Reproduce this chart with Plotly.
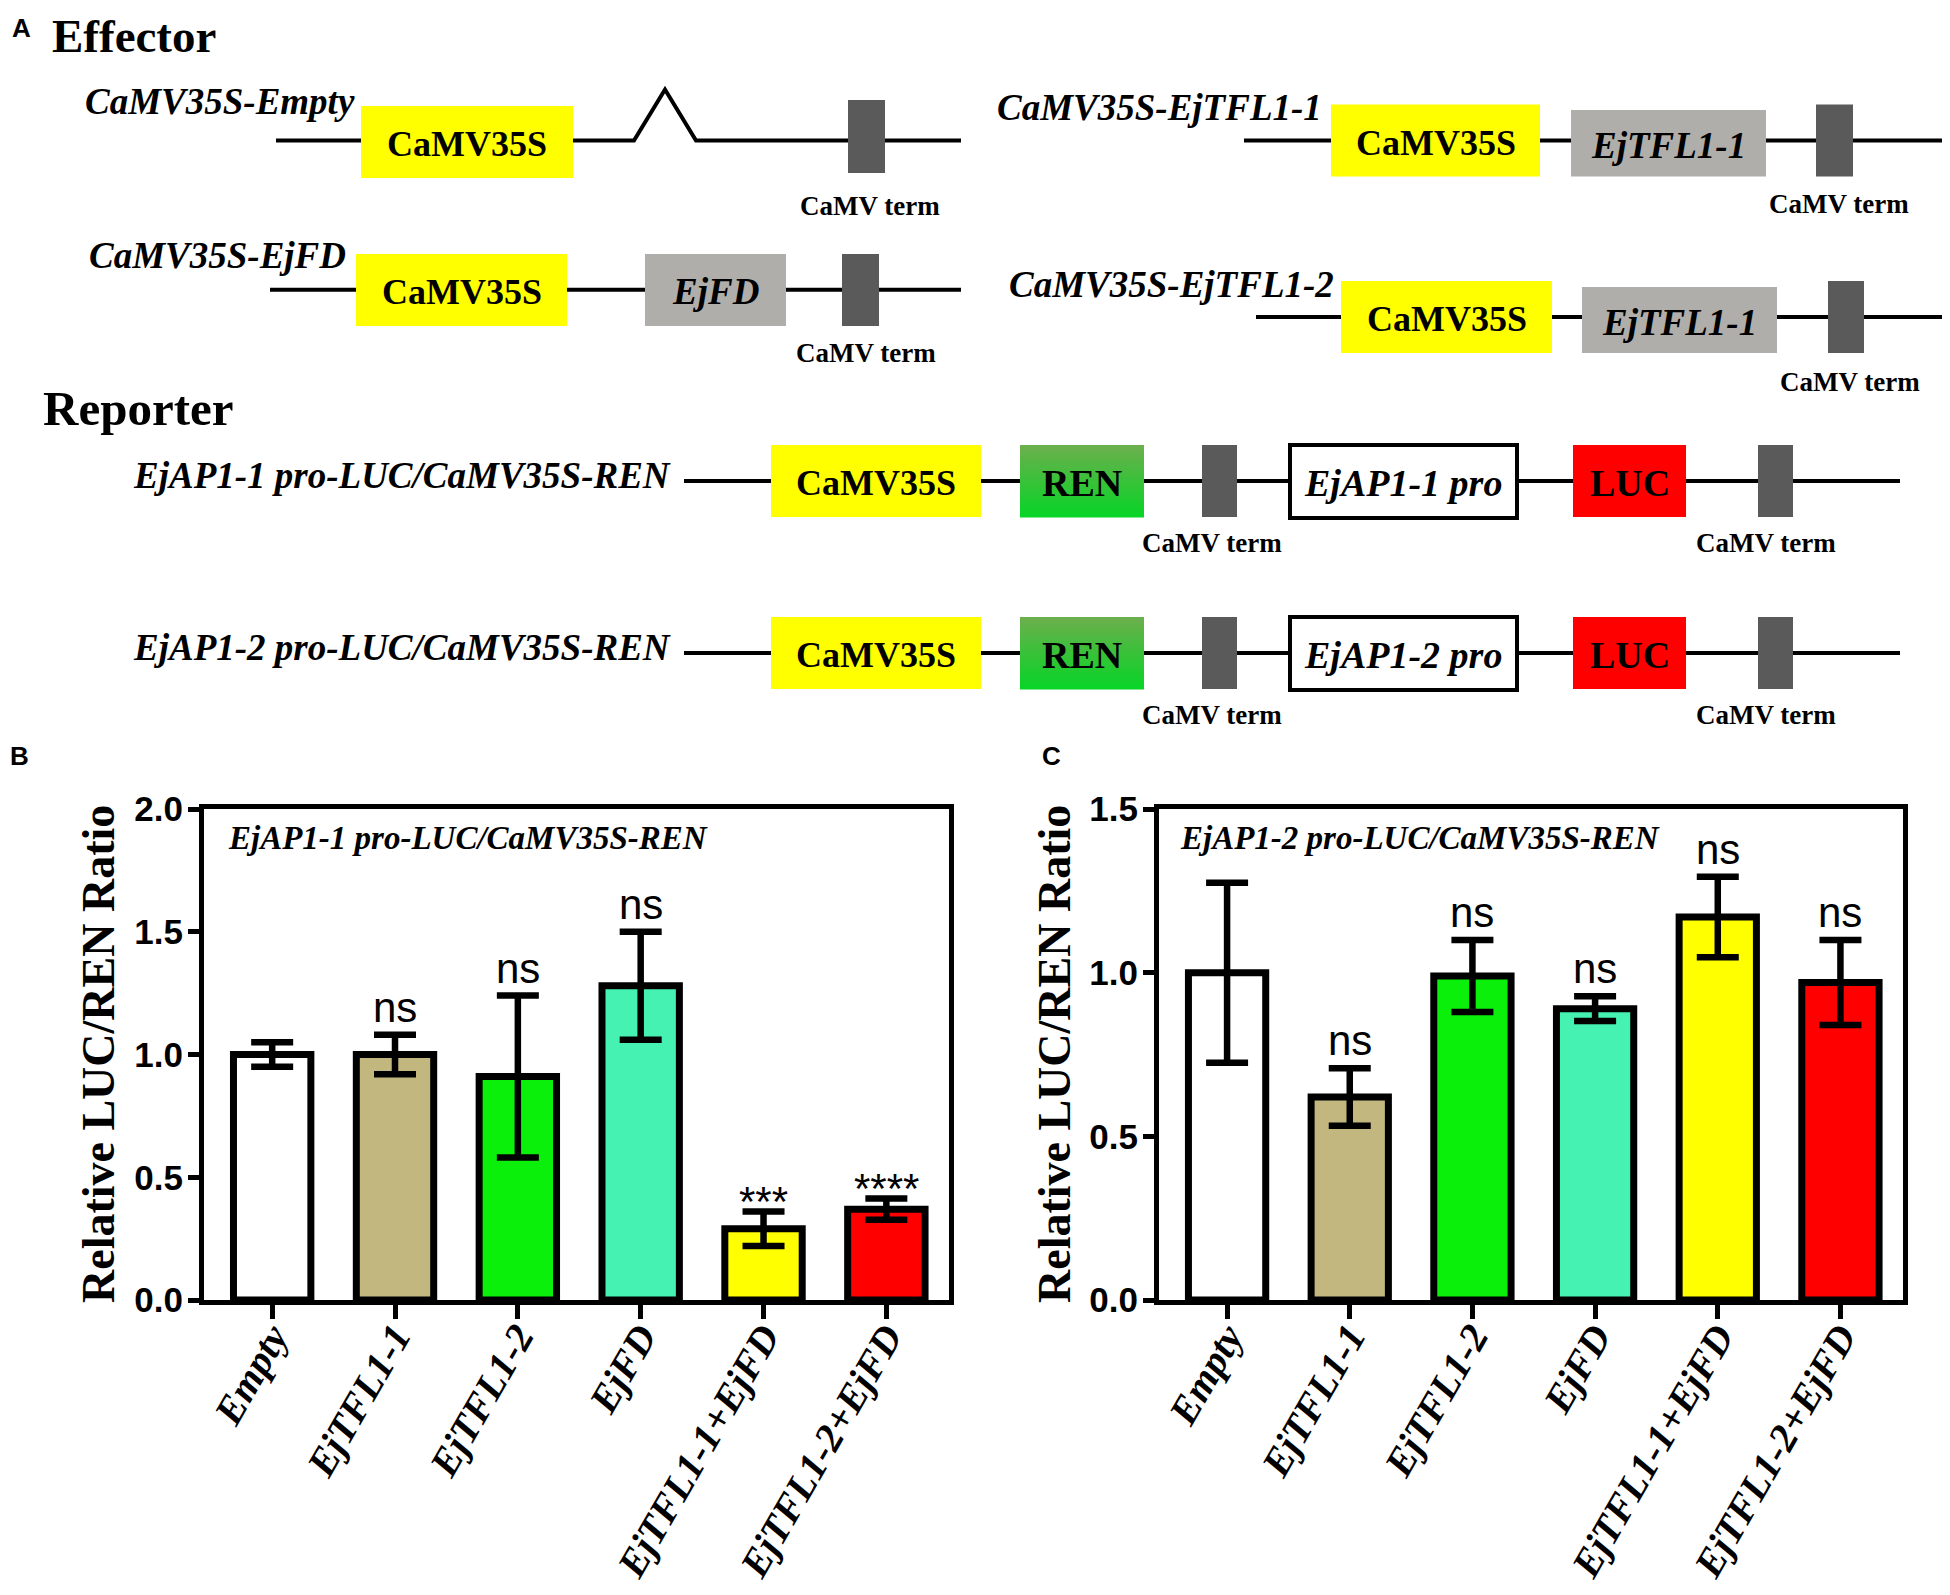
import plotly.graph_objects as go

# the page body has an 8px margin, so the figure is made 16px smaller
# and reference pixel positions are shifted by that margin
OFF = 8
W, H = 1950 - 2 * OFF, 1595 - OFF
SERIF = "Liberation Serif, Times New Roman, serif"
SANS = "Liberation Sans, Arial, sans-serif"

# bar chart data
groups = ["Empty", "EjTFL1-1", "EjTFL1-2", "EjFD", "EjTFL1-1+EjFD", "EjTFL1-2+EjFD"]
bar_colors = ["#FFFFFF", "#C2B77E", "#0AF00A", "#45F2B1", "#FFFF00", "#FF0000"]

ap1_1_mean = [1.00, 1.00, 0.91, 1.28, 0.29, 0.37]
ap1_1_err = [0.05, 0.08, 0.33, 0.22, 0.07, 0.043]
ap1_1_sig = ["", "ns", "ns", "ns", "***", "****"]

ap1_2_mean = [1.00, 0.62, 0.99, 0.89, 1.17, 0.97]
ap1_2_err = [0.275, 0.088, 0.11, 0.038, 0.123, 0.13]
ap1_2_sig = ["", "ns", "ns", "ns", "ns", "ns"]

YELLOW = "#FFFF00"
GREY = "#B0AEAB"
TERM = "#5A5A5A"
RED = "#FF0000"


def px(x):
    return (x - OFF) / W


def py(y):
    return 1 - (y - OFF) / H


shapes = []
annots = []


def rect(x0, x1, y0, y1, fill, line_color=None, lw=0):
    shapes.append(dict(type="rect", xref="paper", yref="paper",
                       x0=px(x0), x1=px(x1), y0=py(y0), y1=py(y1),
                       fillcolor=fill,
                       line=dict(color=line_color or fill, width=lw)))


def hline(x0, x1, y):
    shapes.append(dict(type="line", xref="paper", yref="paper",
                       x0=px(x0), x1=px(x1), y0=py(y), y1=py(y),
                       line=dict(color="black", width=4)))


def text(x, y, s, size, family=SERIF, bold=True, italic=False, anchor="center",
         vanchor="middle"):
    annots.append(dict(x=px(x), y=py(y), xref="paper", yref="paper", text=s,
                       showarrow=False, xanchor=anchor, yanchor=vanchor,
                       font=dict(family=family, size=size, color="black",
                                 weight="bold" if bold else "normal",
                                 style="italic" if italic else "normal")))


def box_label(x0, x1, y0, y1, fill, s, italic=False, size=36):
    rect(x0, x1, y0, y1, fill)
    text((x0 + x1) / 2, (y0 + y1) / 2 + 2, s, size, italic=italic)


def term(x0, x1, y0, y1, tx, ty):
    rect(x0, x1, y0, y1, TERM)
    text(tx, ty, "CaMV term", 27)


def gradient_box(x0, x1, y0, y1, s):
    top = (106, 176, 76)
    bot = (10, 212, 40)
    n = 18
    for k in range(n):
        f = k / (n - 1)
        c = tuple(int(top[j] + (bot[j] - top[j]) * f) for j in range(3))
        ya = y0 + (y1 - y0) * k / n
        yb = y0 + (y1 - y0) * (k + 1) / n + 0.6
        rect(x0, x1, ya, yb, "rgb(%d,%d,%d)" % c)
    text((x0 + x1) / 2, (y0 + y1) / 2 + 2, s, 38)


# ---- panel A: construct diagrams ----
text(21, OFF + 3, "A", 26, family=SANS, vanchor="top")
text(50, OFF, "Effector", 47, anchor="left", vanchor="top")

# CaMV35S-Empty
text(83, 102, "CaMV35S-Empty", 37, italic=True, anchor="left")
shapes.append(dict(type="path", xref="paper", yref="paper",
                   path="M %f,%f L %f,%f L %f,%f L %f,%f L %f,%f" % (
                       px(276), py(140.5), px(634), py(140.5), px(665), py(89.5),
                       px(696), py(140.5), px(961), py(140.5)),
                   line=dict(color="black", width=4)))
box_label(361, 573, 106, 178, YELLOW, "CaMV35S")
term(848, 885, 100, 173, 870, 206)

# CaMV35S-EjFD
text(87, 256, "CaMV35S-EjFD", 37, italic=True, anchor="left")
hline(270, 961, 289.8)
box_label(356, 567, 254, 326, YELLOW, "CaMV35S")
box_label(645, 786, 254, 326, GREY, "EjFD", italic=True, size=37)
term(842, 879, 254, 326, 866, 353)

# CaMV35S-EjTFL1-1
text(995, 107, "CaMV35S-EjTFL1-1", 37, italic=True, anchor="left")
hline(1244, 1946, 140.5)
box_label(1331, 1540, 104.5, 176.6, YELLOW, "CaMV35S")
box_label(1571, 1766, 110, 176.6, GREY, "EjTFL1-1", italic=True, size=37)
term(1816, 1853, 104.5, 176.6, 1839, 204)

# CaMV35S-EjTFL1-2
text(1007, 284, "CaMV35S-EjTFL1-2", 37, italic=True, anchor="left")
hline(1256, 1946, 317)
box_label(1341, 1552, 281, 353, YELLOW, "CaMV35S")
box_label(1582, 1777, 287, 353, GREY, "EjTFL1-1", italic=True, size=37)
term(1828, 1864, 281, 353, 1850, 382)

text(41, 408, "Reporter", 49, anchor="left")

for yl, name, pro in [(481, "EjAP1-1 pro-LUC/CaMV35S-REN", "EjAP1-1 pro"),
                      (653, "EjAP1-2 pro-LUC/CaMV35S-REN", "EjAP1-2 pro")]:
    text(673, yl - 5, name, 37, italic=True, anchor="right")
    hline(684, 1900, yl)
    box_label(771, 981, yl - 36, yl + 36, YELLOW, "CaMV35S")
    gradient_box(1020, 1144, yl - 36, yl + 36, "REN")
    term(1202, 1237, yl - 36, yl + 36, 1212, yl + 62)
    rect(1290, 1517, yl - 36, yl + 37, "white", "black", 4)
    text(1403, yl + 2, pro, 38, italic=True)
    box_label(1573, 1686, yl - 36, yl + 36, RED, "LUC", size=38)
    term(1758, 1793, yl - 36, yl + 36, 1766, yl + 62)

# ---- panels B and C: bar charts ----
text(19, 756, "B", 26, family=SANS)
text(1051, 756, "C", 26, family=SANS)

fig = go.Figure()
xs = list(range(len(groups)))
for mean, err, sig, ax, ay in [(ap1_1_mean, ap1_1_err, ap1_1_sig, "x", "y"),
                               (ap1_2_mean, ap1_2_err, ap1_2_sig, "x2", "y2")]:
    fig.add_trace(go.Bar(
        x=xs, y=mean, xaxis=ax, yaxis=ay, width=0.63,
        marker=dict(color=bar_colors, line=dict(color="black", width=7)),
        error_y=dict(type="data", array=err, visible=True, color="black",
                     thickness=6.5, width=21),
        showlegend=False, hoverinfo="skip"))
    for i, s in enumerate(sig):
        if not s:
            continue
        annots.append(dict(x=i, y=mean[i] + err[i], xref=ax, yref=ay, text=s,
                           showarrow=False, yanchor="bottom",
                           yshift=-15 if s.startswith("*") else 2,
                           font=dict(family=SANS, size=42, color="black")))

text(226, 838, "EjAP1-1 pro-LUC/CaMV35S-REN", 33, italic=True, anchor="left")
text(1178, 838, "EjAP1-2 pro-LUC/CaMV35S-REN", 33, italic=True, anchor="left")

for xc in [98, 1054]:
    annots.append(dict(x=px(xc), y=py(1054), xref="paper", yref="paper",
                       text="Relative LUC/REN Ratio", textangle=-90,
                       showarrow=False, xanchor="center", yanchor="middle",
                       font=dict(family=SERIF, size=46, color="black",
                                 weight="bold")))

xax = dict(range=[-0.555, 5.51], tickvals=xs, ticktext=groups, tickangle=-60,
           showline=True, linecolor="black", linewidth=5, mirror=True,
           ticks="outside", ticklen=14, tickwidth=5, tickcolor="black",
           showgrid=False, zeroline=False, automargin=False,
           ticklabelstandoff=-22,
           tickfont=dict(family=SERIF, size=40, color="black",
                         weight="bold", style="italic"))
yax = dict(dtick=0.5, tickformat=".1f",
           showline=True, linecolor="black", linewidth=5, mirror=True,
           ticks="outside", ticklen=11, tickwidth=5, tickcolor="black",
           showgrid=False, zeroline=False, automargin=False,
           ticklabelstandoff=-2,
           tickfont=dict(family=SANS, size=35, color="black", weight="bold"),
           domain=[py(1300), py(809)])

fig.update_layout(
    width=W, height=H, margin=dict(l=0, r=0, t=0, b=0, autoexpand=False),
    paper_bgcolor="white", plot_bgcolor="white",
    xaxis=dict(xax, domain=[px(204), px(949)]),
    yaxis=dict(yax, range=[0, 2.0]),
    xaxis2=dict(xax, domain=[px(1159), px(1903)], anchor="y2"),
    yaxis2=dict(yax, range=[0, 1.5], anchor="x2"),
    shapes=shapes, annotations=annots, bargap=0.3)

fig.write_html("out.html")
